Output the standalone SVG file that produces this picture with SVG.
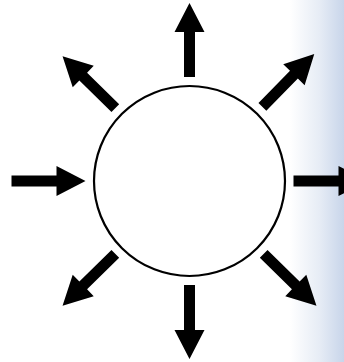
<svg xmlns="http://www.w3.org/2000/svg" xmlns:xlink="http://www.w3.org/1999/xlink" width="344" height="362" viewBox="0 0 344 362">
  <defs>
    <linearGradient id="edge" gradientUnits="userSpaceOnUse" x1="290" y1="0" x2="344" y2="0">
      <stop offset="0" stop-color="#ffffff"/>
      <stop offset="0.55" stop-color="#e6ecf5"/>
      <stop offset="1" stop-color="#c8d5ea"/>
    </linearGradient>
    <path id="arrow" d="M0,-5.5 L45,-5.5 L45,-15 L74,0 L45,15 L45,5.5 L0,5.5 Z"/>
    <style>
      .arrow { fill: #000000; }
      .ring { fill: #ffffff; stroke: #000000; stroke-width: 2.2; }
    </style>
  </defs>
  <rect x="0" y="0" width="344" height="362" fill="#ffffff"/>
  <rect x="290" y="0" width="54" height="362" fill="url(#edge)"/>
  <g id="circle">
    <ellipse class="ring" cx="189.5" cy="181" rx="95.5" ry="95"/>
  </g>
  <g id="connectors">
    <use xlink:href="#arrow" class="arrow" transform="translate(189.5,181) rotate(-90) translate(104,0)"/>
    <use xlink:href="#arrow" class="arrow" transform="translate(189.5,181) rotate(90) translate(104,0)"/>
    <use xlink:href="#arrow" class="arrow" transform="translate(189.5,181) rotate(0) translate(104,0)"/>
    <use xlink:href="#arrow" class="arrow" transform="translate(189.5,181) rotate(180) translate(178,0) rotate(180)"/>
    <use xlink:href="#arrow" class="arrow" transform="translate(189.5,181) rotate(-135.5) translate(104,0)"/>
    <use xlink:href="#arrow" class="arrow" transform="translate(189.5,181) rotate(-45.5) translate(104,0)"/>
    <use xlink:href="#arrow" class="arrow" transform="translate(189.5,181) rotate(135.5) translate(104,0)"/>
    <use xlink:href="#arrow" class="arrow" transform="translate(189.5,181) rotate(44.5) translate(104,0)"/>
  </g>
</svg>
